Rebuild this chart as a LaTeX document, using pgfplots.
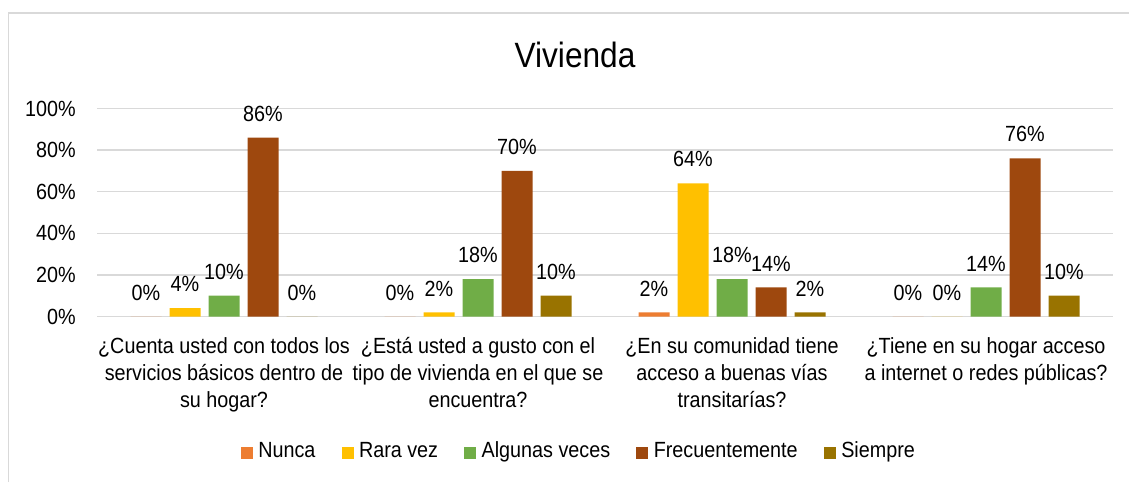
\documentclass[border=0pt]{standalone}
\usepackage{fontspec}
\setmainfont{Liberation Sans}[FakeStretch=0.9]
\usepackage{pgfplots}
\pgfplotsset{compat=1.18}

\definecolor{cNunca}{HTML}{ED7D31}
\definecolor{cRara}{HTML}{FFC000}
\definecolor{cAlg}{HTML}{70AD47}
\definecolor{cFrec}{HTML}{9E480E}
\definecolor{cSiem}{HTML}{997300}
\definecolor{gridg}{HTML}{D9D9D9}

\begin{document}
\begin{tikzpicture}
\path[use as bounding box] (0,0) rectangle (22.58,9.64);
\draw[gridg, line width=0.035cm] (0.17,0) -- (0.17,9.38) -- (22.58,9.38);
\node[font=\fontsize{20}{24}\selectfont] at (11.5,8.54) {Vivienda};
\begin{axis}[
  at={(1.94cm,3.31cm)}, anchor=south west,
  scale only axis, width=20.32cm, height=4.16cm,
  ybar=0.16cm, bar width=0.62cm,
  xmin=-0.5, xmax=3.5, ymin=0, ymax=100,
  xtick={0,1,2,3},
  xticklabels={
    {¿Cuenta usted con todos los\\servicios básicos dentro de\\su hogar?},
    {¿Está usted a gusto con el\\tipo de vivienda en el que se\\encuentra?},
    {¿En su comunidad tiene\\acceso a buenas vías\\transitarías?},
    {¿Tiene en su hogar acceso\\a internet o redes públicas?}},
  xticklabel style={align=center, font=\fontsize{12.5}{15.2}\selectfont, yshift=-0.3cm},
  ytick={0,20,40,60,80,100},
  yticklabel={\pgfmathprintnumber{\tick}\%},
  yticklabel style={font=\fontsize{12.5}{15}\selectfont, xshift=-0.3cm,
    /pgf/number format/assume math mode=true},
  ymajorgrids, grid style={gridg, line width=0.03cm},
  axis line style={draw=none}, major tick length=0pt,
  nodes near coords={\pgfmathprintnumber[assume math mode=true]{\pgfplotspointmeta}\%},
  every node near coord/.append style={font=\fontsize{12.5}{15}\selectfont, yshift=0.2cm},
  legend columns=5,
  legend style={draw=none, at={(0.475,-0.655)}, anchor=center,
    font=\fontsize{12.5}{15}\selectfont,
    nodes={text height=0.72em, text depth=0.22em},
    /tikz/every odd column/.append style={column sep=0.04cm},
    /tikz/every even column/.append style={column sep=0.45cm}},
  legend image code/.code={\fill[#1] (0cm,-0.12cm) rectangle (0.24cm,0.12cm);},
]
\addplot[fill=cNunca, draw=none] coordinates {(0,0) (1,0) (2,2) (3,0)};
\addplot[fill=cRara, draw=none] coordinates {(0,4) (1,2) (2,64) (3,0)};
\addplot[fill=cAlg, draw=none] coordinates {(0,10) (1,18) (2,18) (3,14)};
\addplot[fill=cFrec, draw=none] coordinates {(0,86) (1,70) (2,14) (3,76)};
\addplot[fill=cSiem, draw=none] coordinates {(0,0) (1,10) (2,2) (3,10)};
\legend{Nunca, Rara vez, Algunas veces, Frecuentemente, Siempre}
\end{axis}
\end{tikzpicture}
\end{document}
